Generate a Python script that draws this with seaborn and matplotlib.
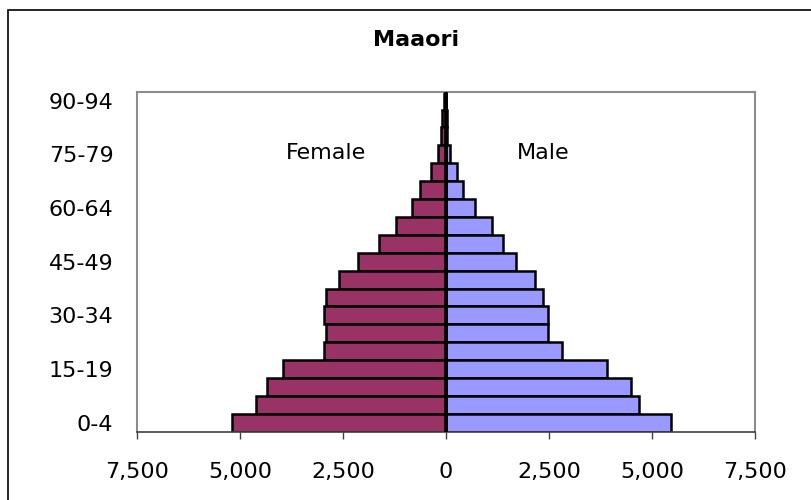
import numpy as np
import pandas as pd
import seaborn as sns
import matplotlib.pyplot as plt
from matplotlib.patches import Rectangle

# age groups, bottom to top
ages = ['0-4', '5-9', '10-14', '15-19', '20-24', '25-29', '30-34', '35-39',
        '40-44', '45-49', '50-54', '55-59', '60-64', '65-69', '70-74',
        '75-79', '80-84', '85-89', '90-94']
female = [5190, 4600, 4340, 3960, 2970, 2910, 2970, 2910, 2585, 2130,
          1615, 1225, 820, 625, 375, 195, 125, 85, 60]
male = [5465, 4680, 4495, 3900, 2810, 2470, 2470, 2350, 2155, 1705,
        1380, 1110, 715, 410, 270, 85, 30, 20, 10]
xticks = [-7500, -5000, -2500, 0, 2500, 5000, 7500]

df = pd.DataFrame({'age': ages, 'female': [-v for v in female], 'male': male})

sns.set_style('white')
plt.rcParams['font.family'] = ['DejaVu Sans']
plt.rcParams['text.color'] = 'black'
plt.rcParams['xtick.labelcolor'] = 'black'
plt.rcParams['ytick.labelcolor'] = 'black'

fig = plt.figure(figsize=(8.11, 5.0), dpi=100)
ax = fig.add_axes([137/811, 68.3/500, 618/811, 340/500])

order = ages[::-1]
sns.barplot(data=df, x='female', y='age', order=order, orient='h', width=1.0,
            color='#993366', saturation=1, edgecolor='black', linewidth=1.8, ax=ax)
sns.barplot(data=df, x='male', y='age', order=order, orient='h', width=1.0,
            color='#9999FF', saturation=1, edgecolor='black', linewidth=1.8, ax=ax)

# category axis at zero with small ticks pointing left
bounds = np.arange(len(ages) - 1) + 0.5
ax.hlines(bounds, -120, 0, color='black', lw=1, zorder=1)
ax.axvline(0, color='black', lw=2.6, zorder=5)

ax.set_xlim(-7500, 7500)
ax.set_ylim(len(ages) - 0.5, -0.5)
ax.set_xticks(xticks)
ax.set_xticklabels([f'{abs(v):,}' for v in xticks], fontsize=16)
ax.set_yticks(range(len(order)))
ax.set_yticklabels([a if i % 3 == 0 else '' for i, a in enumerate(order)], fontsize=16)
ax.tick_params(axis='y', length=0, pad=17)
ax.tick_params(axis='x', length=5, width=1, color='#404040', pad=17, direction='out', bottom=True)
ax.set_xlabel('')
ax.set_ylabel('')

for side in ['left', 'top', 'right']:
    ax.spines[side].set_color('#8c8c8c')
    ax.spines[side].set_linewidth(1.5)
ax.spines['bottom'].set_color('#404040')
ax.spines['bottom'].set_linewidth(1.2)

ax.text(0.306, 0.821, 'Female', transform=ax.transAxes, fontsize=16,
        ha='center', va='center')
ax.text(0.657, 0.821, 'Male', transform=ax.transAxes, fontsize=16,
        ha='center', va='center')

fig.text(415.7/811, 1 - 40/500, 'Maaori', fontsize=16, fontweight='bold',
         ha='center', va='center')

# chart area frame
fig.patches.append(Rectangle((8/811, -0.1), 1.2, 1 - 10/500 + 0.1, transform=fig.transFigure,
                             fill=False, edgecolor='black', lw=1.2))

fig.savefig('out.png', dpi=100)
